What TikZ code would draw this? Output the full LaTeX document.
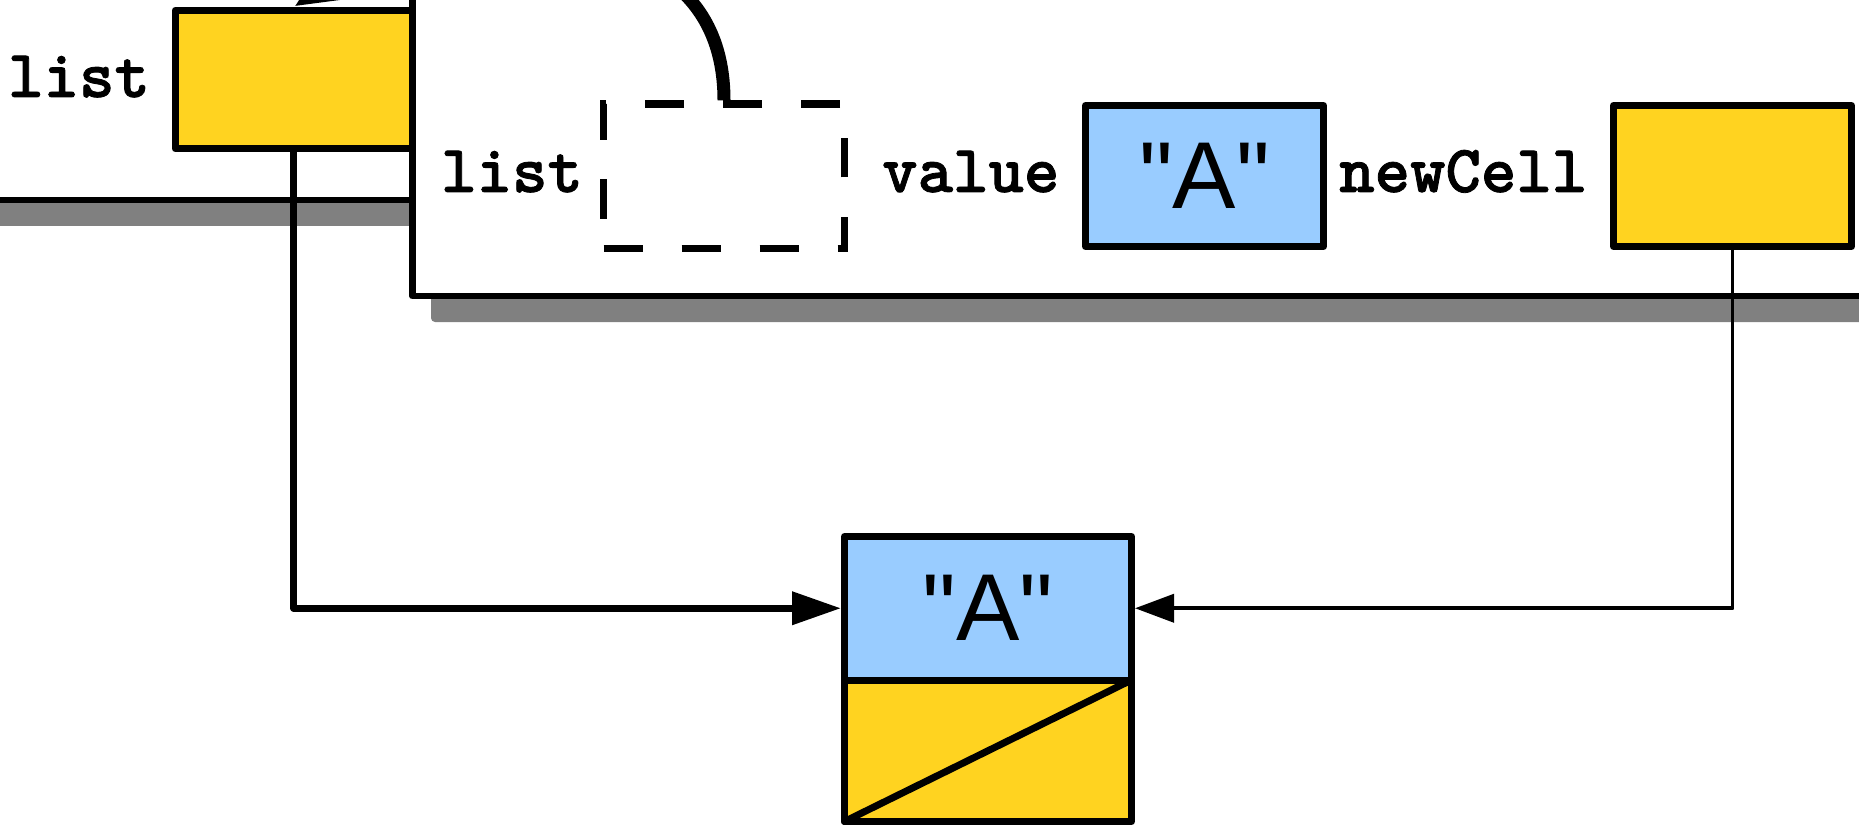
\documentclass[tikz,border=0pt]{standalone}
\usepackage{fontspec}
\newfontfamily\sansA{Liberation Sans}
\newfontfamily\monoA{lmmonolt10-bold.otf}[FakeBold=1.2]
\usetikzlibrary{arrows.meta}
\definecolor{cellyellow}{RGB}{255,211,32}
\definecolor{cellblue}{RGB}{153,204,255}
\definecolor{shadowgray}{RGB}{128,128,128}
\begin{document}
\begin{tikzpicture}[x=1pt,y=-1pt,
  box/.style={draw=black, line width=7pt, inner sep=0pt, line join=round},
  ybox/.style={box, fill=cellyellow},
  bbox/.style={box, fill=cellblue, font=\sansA\fontsize{95}{100}\selectfont},
  dashbox/.style={draw=black, line width=7.3pt, inner sep=0pt, dash pattern=on 39pt off 39pt},
  codelabel/.style={font=\monoA\fontsize{67.5}{72}\selectfont, inner sep=0pt, anchor=base west},
  framebox/.style={draw=black, line width=6.8pt, fill=white, line join=round},
  shadowbox/.style={fill=shadowgray, rounded corners=4pt},
  bigarrow/.style={line width=7pt, line join=round, -{Triangle[length=49pt,width=32pt]}},
  thinarrow/.style={line width=3.8pt, line join=round, -{Triangle[length=39pt,width=28pt]}},
  curvearrow/.style={line width=13pt, -{Triangle[length=45pt,width=36pt]}}
]
\useasboundingbox (0,0) rectangle (1859,829);
\clip (0,0) rectangle (1859,829);

% outer frame with shadow
\fill[shadowgray] (-80,-80) rectangle (2020,226);
\draw[framebox] (-100,-100) rectangle (2000,200);
% inner frame with shadow
\fill[shadowbox] (431,-80) rectangle (2020,322);
\draw[framebox] (412.5,-100) rectangle (2000,296);

% boxes
\node[ybox, minimum width=237.25pt, minimum height=138.5pt] (lbox) at (293.9,79.5) {};
\node[dashbox, minimum width=241pt, minimum height=144.5pt] (dbox) at (724,176.25) {};
\node[bbox, minimum width=238pt, minimum height=141pt] (vbox) at (1204.5,176) {"A"};
\node[ybox, minimum width=238pt, minimum height=141pt] (ncbox) at (1732.5,176) {};

% labels
\node[codelabel] (lblA) at (8,97) {list};
\node[codelabel] (lblB) at (441,192) {list};
\node[codelabel] (lblC) at (882,192) {value};
\node[codelabel] (lblD) at (1339,192) {newCell};

% bottom cell
\node[bbox, minimum width=287pt, minimum height=143.5pt] (cellA) at (988,608.25) {"A"};
\node[ybox, minimum width=287pt, minimum height=141.5pt] (cellB) at (988,750.75) {};
\draw[line width=7pt, line cap=round] ([xshift=3.5pt,yshift=3.5pt]cellB.south west) -- ([xshift=-3.5pt,yshift=-3.5pt]cellB.north east);

% connectors
\draw[curvearrow] (dbox.north) .. controls (724,-120) and (400,-60) .. (lbox.north);
\draw[bigarrow] (lbox.south) |- (cellA.west);
\draw[thinarrow] (ncbox.south) |- (cellA.east);
\end{tikzpicture}
\end{document}
